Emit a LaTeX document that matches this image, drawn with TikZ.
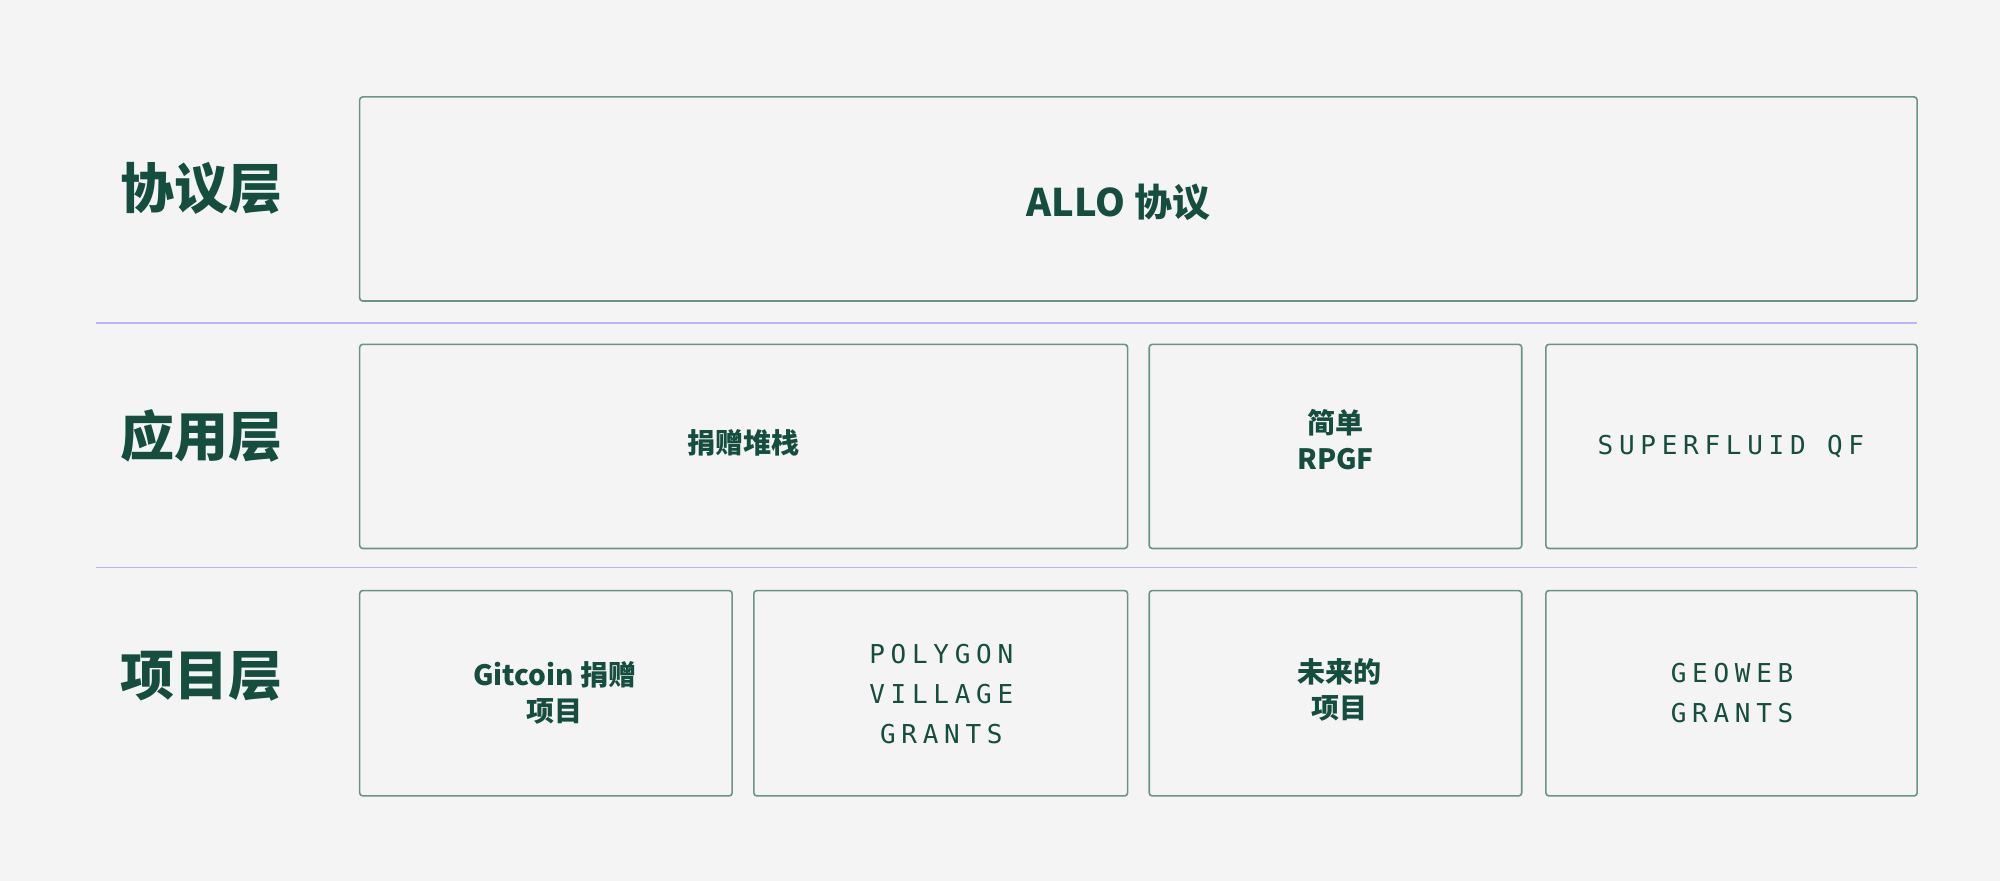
\documentclass[tikz,border=0pt]{standalone}
\usepackage{fontspec}
\setmainfont{Noto Sans CJK SC}
\newfontfamily\monof{DejaVu Sans Mono}[LetterSpace=22]
\definecolor{bg}{HTML}{F4F4F4}
\definecolor{txt}{HTML}{154D3E}
\definecolor{bd}{HTML}{6A9486}
\definecolor{sep}{HTML}{BFB3F2}
\begin{document}
\begin{tikzpicture}[x=1.2755pt,y=-1.2755pt,
  box/.style={draw=bd,line width=1.6pt,rounded corners=3pt,fill=bg},
  lbl/.style={text=txt,font=\fontsize{54}{60}\selectfont\bfseries},
  tx/.style={text=txt,font=\fontsize{28}{36}\selectfont\bfseries,align=center},
  mono/.style={text=txt,font=\fontsize{26}{40}\selectfont\monof,align=center}]
\fill[bg] (0,0) rectangle (1568,690.7);
\useasboundingbox (0,0) rectangle (1568,690.7);
\draw[sep,line width=1.6pt] (75,253) coordinate(s1a) -- (1503,253) coordinate(s1b);
\draw[sep,line width=1.6pt] (75,445) coordinate(s2a) -- (1503,445) coordinate(s2b);
\node[lbl] (l1) at (158,148) {协议层};
\node[lbl] (l2) at (158,342) {应用层};
\node[lbl] (l3) at (158,530) {项目层};
\draw[box] (282,76) rectangle (1503,236);
\node[tx,font=\fontsize{38}{44}\selectfont\bfseries] (allo) at (877,159) {ALLO 协议};
\draw[box] (282,270) rectangle (884,430);
\node[tx] (a1) at (583,347) {捐赠堆栈};
\draw[box] (901,270) rectangle (1193,430);
\node[tx] (a2) at (1047,345) {简单\\RPGF};
\draw[box] (1212,270) rectangle (1503,430);
\node[mono] (a3) at (1357,350) {SUPERFLUID QF};
\draw[box] (282,463) rectangle (574,624);
\node[tx] (p1) at (435,543) {Gitcoin 捐赠\\项目};
\draw[box] (591,463) rectangle (884,624);
\node[mono] (p2) at (738,544) {POLYGON\\VILLAGE\\GRANTS};
\draw[box] (901,463) rectangle (1193,624);
\node[tx] (p3) at (1050,541) {未来的\\项目};
\draw[box] (1212,463) rectangle (1503,624);
\node[mono] (p4) at (1358,543) {GEOWEB\\GRANTS};
\end{tikzpicture}
\end{document}
